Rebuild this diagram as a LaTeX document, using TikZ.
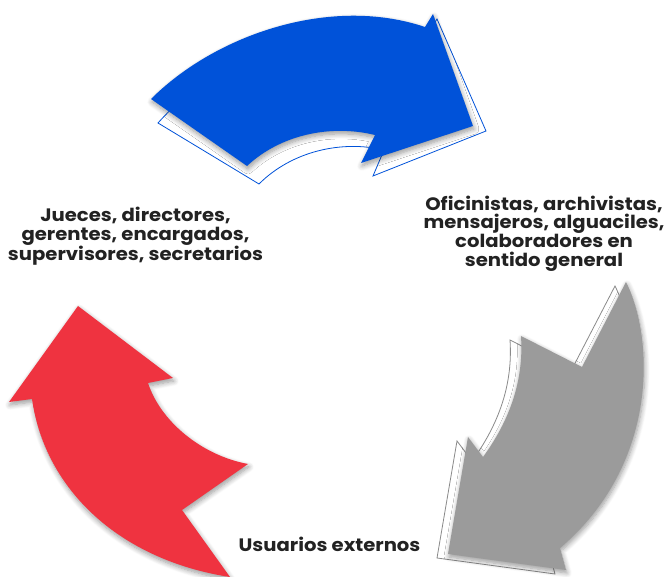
\documentclass[tikz,border=0pt]{standalone}
\usepackage{fontspec}
\setmainfont{Poppins}[FakeStretch=1.09]
\usepackage{tikz}
\usetikzlibrary{shadows.blur}
\definecolor{bluearr}{HTML}{0052D9}
\definecolor{redarr}{HTML}{EF3340}
\definecolor{grayarr}{HTML}{9B9B9B}
\definecolor{grayline}{HTML}{8A8A8A}
\definecolor{labtext}{HTML}{222222}
\tikzset{
  soft/.style={blur shadow={shadow xshift=1pt, shadow yshift=-3pt, shadow blur radius=5pt, shadow blur steps=8, shadow opacity=40}},
  arrblue/.style={fill=bluearr, draw=none, soft},
  arrred/.style={fill=redarr, draw=none, soft},
  arrgray/.style={fill=grayarr, draw=none, soft},
  ghostblue/.style={fill=white, draw=bluearr, line width=0.8pt, line join=miter},
  ghostgray/.style={fill=white, draw=grayline, line width=0.8pt, line join=miter},
  lab/.style={text=labtext, align=center, font=\bfseries\fontsize{18}{18.8}\selectfont}
}
\begin{document}
\begin{tikzpicture}[x=1pt, y=-1pt]
  \useasboundingbox (0,0) rectangle (665,577);

  % top arrow (blue), flat copy behind it
  \path[ghostblue] (158,123) .. controls (223,50) and (338,10) .. (429,32)
    -- (437,19) -- (486,131) -- (373,176) -- (384,150)
    .. controls (342,140) and (292,151) .. (259,184) -- cycle;
  \path[arrblue] (151,99) .. controls (215,35) and (330,-5) .. (425,27)
    -- (433,14) -- (473,126) -- (361,163) -- (375,135)
    .. controls (330,124) and (280,135) .. (247,166) -- cycle;

  % right arrow (gray)
  \begin{scope}[shift={(-11,4)}]
    \path[ghostgray] (521,336) -- (582,367) -- (626,282)
      .. controls (655,340) and (658,465) .. (560,548)
      -- (566,570) -- (448,554) -- (468,437) -- (483,457)
      .. controls (510,420) and (524,380) .. (521,336) -- cycle;
  \end{scope}
  \path[arrgray] (521,336) -- (582,367) -- (626,282)
    .. controls (655,340) and (658,465) .. (560,548)
    -- (566,570) -- (448,554) -- (468,437) -- (483,457)
    .. controls (510,420) and (524,380) .. (521,336) -- cycle;

  % left arrow (red)
  \path[arrred] (78,306) -- (173,378) -- (148,383)
    .. controls (160,420) and (200,455) .. (248,464)
    -- (182,510) -- (230,577)
    .. controls (120,560) and (45,490) .. (32,399)
    -- (9,402) -- cycle;

  % labels
  \node[lab] (jefes) at (135.5,236) {Jueces, directores,\\gerentes, encargados,\\supervisores, secretarios};
  \node[lab] (staff) at (544,233.5) {Oficinistas, archivistas,\\mensajeros, alguaciles,\\colaboradores en\\sentido general};
  \node[lab] (usuarios) at (329.5,544) {Usuarios externos};
\end{tikzpicture}
\end{document}
